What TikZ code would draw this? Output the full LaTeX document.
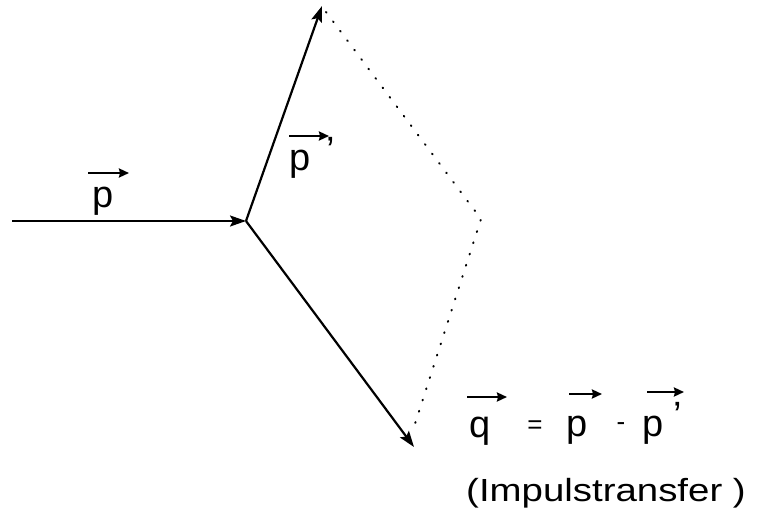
\documentclass[tikz,border=0pt]{standalone}
\usepackage{fontspec}
\setmainfont{Liberation Sans}
\usetikzlibrary{arrows.meta}
\tikzset{
  vecline/.style={line width=2.2pt,-{Stealth[length=16pt,width=11pt,inset=3pt]}},
  dotline/.style={line width=2pt,line cap=round,dash pattern=on 0.8pt off 11pt},
  lbl/.style={font=\fontsize{38}{40}\selectfont,inner sep=0pt,anchor=base},
  smalllbl/.style={font=\fontsize{26}{28}\selectfont,inner sep=0pt,anchor=base},
  vecarrow/.style={line width=2.4pt,-{Stealth[length=10pt,width=9pt,inset=1pt]}}
}
\begin{document}
\begin{tikzpicture}[x=1pt,y=-1pt]
\useasboundingbox (0,0) rectangle (757,522);
\coordinate (s) at (12,221);
\coordinate (v) at (246,221);
\coordinate (t) at (322,6);
\coordinate (b) at (414,447);
\coordinate (c) at (481,219);
\coordinate (d1) at (326,12);
\coordinate (d2) at (413,430);
\draw[vecline] (s) -- (v);
\draw[vecline] (v) -- (t);
\draw[vecline] (v) -- (b);
\draw[dotline] (d1) -- (c) -- (d2);
% labels
\node[lbl] (lp) at (103,207) {p};
\draw[vecarrow] (88,173) -- (129,173);
\node[lbl] (lpp) at (300,170) {p};
\node[lbl] (lppr) at (331,163) {’};
\draw[vecarrow] (289,136) -- (329,136);
\node[lbl] (lq) at (480,437) {q};
\node[smalllbl] (leq) at (535,433) {=};
\node[lbl] (lp2) at (577,436) {p};
\node[smalllbl] (lmin) at (621,430) {-};
\node[lbl] (lp3) at (653,436) {p};
\node[lbl] (lp3pr) at (678,428) {’};
\draw[vecarrow] (467,397) -- (507,397);
\draw[vecarrow] (569,394) -- (602,394);
\draw[vecarrow] (647,392) -- (684,392);
\node[font=\fontsize{32}{34}\selectfont,inner sep=0pt,xscale=1.2] (it) at (606,493) {(Impulstransfer )};
\end{tikzpicture}
\end{document}
